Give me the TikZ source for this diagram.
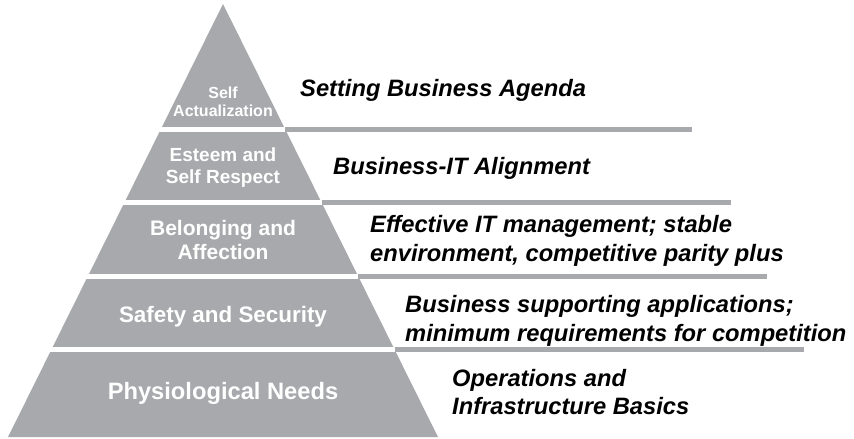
\documentclass[tikz,border=0pt]{standalone}
\usepackage{fontspec}
\setmainfont{Liberation Sans}
\definecolor{tiergray}{RGB}{167,169,172}

\begin{document}
\begin{tikzpicture}[x=1pt, y=-1pt,
    tier/.style = {white, font=\bfseries, align=center, inner sep=0pt},
    goal/.style = {anchor=west, font=\bfseries\itshape, align=left, inner sep=0pt},
    gap/.style = {white, line width=5pt},
    ledge/.style = {tiergray, line width=5pt}]
    \useasboundingbox (0,0) rectangle (854,439);
    % the pyramid
    \fill[tiergray] (223,4) -- (438,437) -- (8,437) -- cycle;
    % white cuts between the levels
    \draw[gap] (0,129) -- (285,129);
    \draw[gap] (0,202.5) -- (321.5,202.5);
    \draw[gap] (0,276) -- (358,276);
    \draw[gap] (0,349.5) -- (394.5,349.5);
    % shelves running out to the right
    \coordinate (e1) at (692,129);
    \coordinate (e2) at (731,202.5);
    \coordinate (e3) at (767,276);
    \coordinate (e4) at (804,349.5);
    \draw[ledge] (285,129) -- (e1);
    \draw[ledge] (321.5,202.5) -- (e2);
    \draw[ledge] (358,276) -- (e3);
    \draw[ledge] (394.5,349.5) -- (e4);
    % levels
    \node[tier, font=\bfseries\fontsize{16}{18}\selectfont] (self) at (223,102) {Self\\Actualization};
    \node[tier, font=\bfseries\fontsize{19}{21.5}\selectfont] (esteem) at (223,167.5) {Esteem and\\Self Respect};
    \node[tier, font=\bfseries\fontsize{21}{24}\selectfont] (belong) at (223,240) {Belonging and\\Affection};
    \node[tier, font=\bfseries\fontsize{22.4}{26}\selectfont] (safety) at (223,317) {Safety and Security};
    \node[tier, font=\bfseries\fontsize{23.7}{27}\selectfont] (physio) at (223,393) {Physiological Needs};
    % what each level means for IT
    \node[goal, font=\bfseries\itshape\fontsize{23.7}{28.5}\selectfont] (agenda) at (300,90) {Setting Business Agenda};
    \node[goal, font=\bfseries\itshape\fontsize{23.7}{28.5}\selectfont] (align) at (333,168) {Business-IT Alignment};
    \node[goal, font=\bfseries\itshape\fontsize{23.7}{28.5}\selectfont] (mgmt) at (370,241) {Effective IT management; stable\\environment, competitive parity plus};
    \node[goal, font=\bfseries\itshape\fontsize{23.7}{28.5}\selectfont] (apps) at (405,321) {Business supporting applications;\\minimum requirements for competition};
    \node[goal, font=\bfseries\itshape\fontsize{23.7}{28.5}\selectfont] (ops) at (452,392) {Operations and\\Infrastructure Basics};
\end{tikzpicture}
\end{document}
